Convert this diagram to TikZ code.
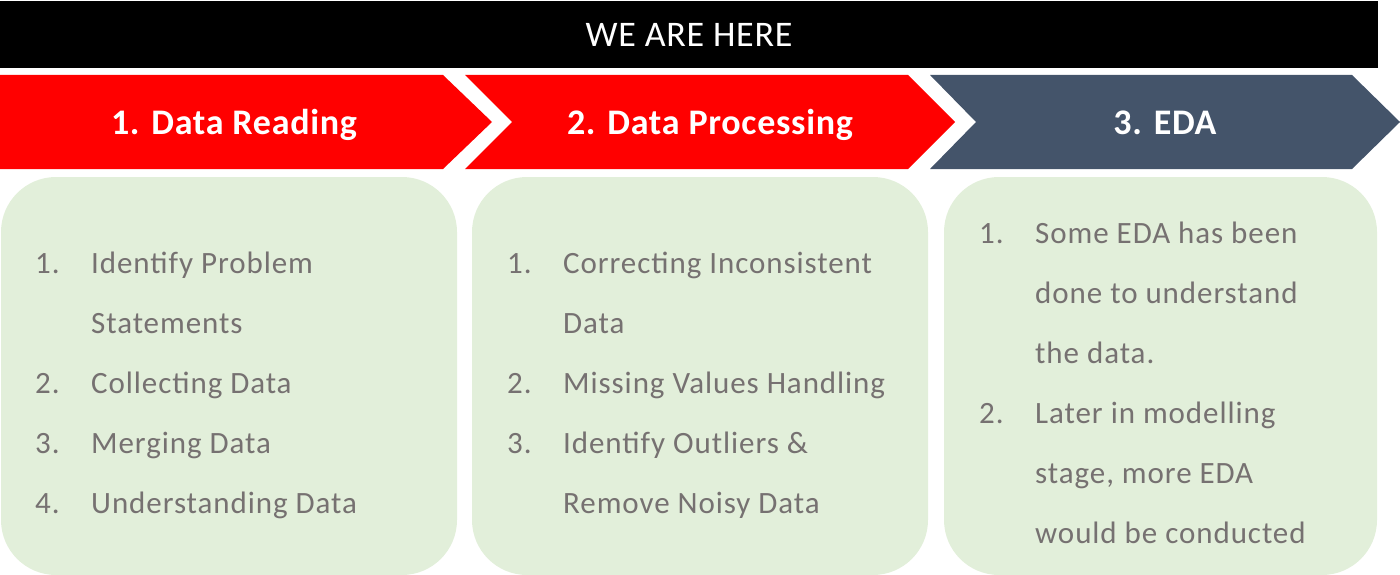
\documentclass[tikz,border=0pt]{standalone}
\usepackage{fontspec}
\setmainfont{Carlito}
\newfontfamily\itemfont[LetterSpace=3]{Carlito}
\newfontfamily\headfont[LetterSpace=2]{Carlito}
\definecolor{chevred}{HTML}{FF0000}
\definecolor{chevslate}{HTML}{44546A}
\definecolor{boxgreen}{HTML}{E2EFDA}
\definecolor{itemgray}{HTML}{767171}
\tikzset{
  chevtext/.style={text=white,font=\headfont\fontsize{36}{40}\selectfont\bfseries,anchor=base,inner sep=0pt},
  itemtext/.style={text=itemgray,font=\itemfont\fontsize{31}{36}\selectfont,anchor=base west,inner sep=0pt},
  greenbox/.style={fill=boxgreen,draw=none,rounded corners=55pt}
}
\begin{document}
\begin{tikzpicture}[x=1pt,y=-1pt]
\useasboundingbox (0,0) rectangle (1400,575);
% top bar
\fill[black] (0,1) rectangle (1378,68);
\node[text=white,font=\headfont\fontsize{36}{40}\selectfont,anchor=base,inner sep=0pt] (here) at (689,47) {WE ARE HERE};
% chevrons
\fill[chevred] (0,75) -- (443,75) -- (492,122) -- (443,169) -- (0,169) -- cycle;
\fill[chevred] (465,75) -- (908,75) -- (955,122) -- (908,169) -- (465,169) -- (512,122) -- cycle;
\fill[chevslate] (930,75) -- (1352,75) -- (1400,122) -- (1352,169) -- (930,169) -- (976,122) -- cycle;
\node[chevtext] (c1) at (234,135) {1. Data Reading};
\node[chevtext] (c2) at (710,135) {2. Data Processing};
\node[chevtext] (c3) at (1165,135) {3. EDA};
% boxes
\fill[greenbox] (1,177) rectangle (457,575);
\fill[greenbox] (472,177) rectangle (928,575);
\fill[greenbox] (944,177) rectangle (1377,575);
% box 1
\node[itemtext] (a1n) at (35,273) {1.};
\node[itemtext] (a1) at (91,273) {Identify Problem};
\node[itemtext] (a1b) at (91,333) {Statements};
\node[itemtext] (a2n) at (35,393) {2.};
\node[itemtext] (a2) at (91,393) {Collecting Data};
\node[itemtext] (a3n) at (35,453) {3.};
\node[itemtext] (a3) at (91,453) {Merging Data};
\node[itemtext] (a4n) at (35,513) {4.};
\node[itemtext] (a4) at (91,513) {Understanding Data};
% box 2
\node[itemtext] (b1n) at (507,273) {1.};
\node[itemtext] (b1) at (563,273) {Correcting Inconsistent};
\node[itemtext] (b1b) at (563,333) {Data};
\node[itemtext] (b2n) at (507,393) {2.};
\node[itemtext] (b2) at (563,393) {Missing Values Handling};
\node[itemtext] (b3n) at (507,453) {3.};
\node[itemtext] (b3) at (563,453) {Identify Outliers \&};
\node[itemtext] (b3b) at (563,513) {Remove Noisy Data};
% box 3
\node[itemtext] (e1n) at (979,243) {1.};
\node[itemtext] (e1) at (1035,243) {Some EDA has been};
\node[itemtext] (e1b) at (1035,303) {done to understand};
\node[itemtext] (e1c) at (1035,363) {the data.};
\node[itemtext] (e2n) at (979,423) {2.};
\node[itemtext] (e2) at (1035,423) {Later in modelling};
\node[itemtext] (e2b) at (1035,483) {stage, more EDA};
\node[itemtext] (e2c) at (1035,543) {would be conducted};
\end{tikzpicture}
\end{document}
